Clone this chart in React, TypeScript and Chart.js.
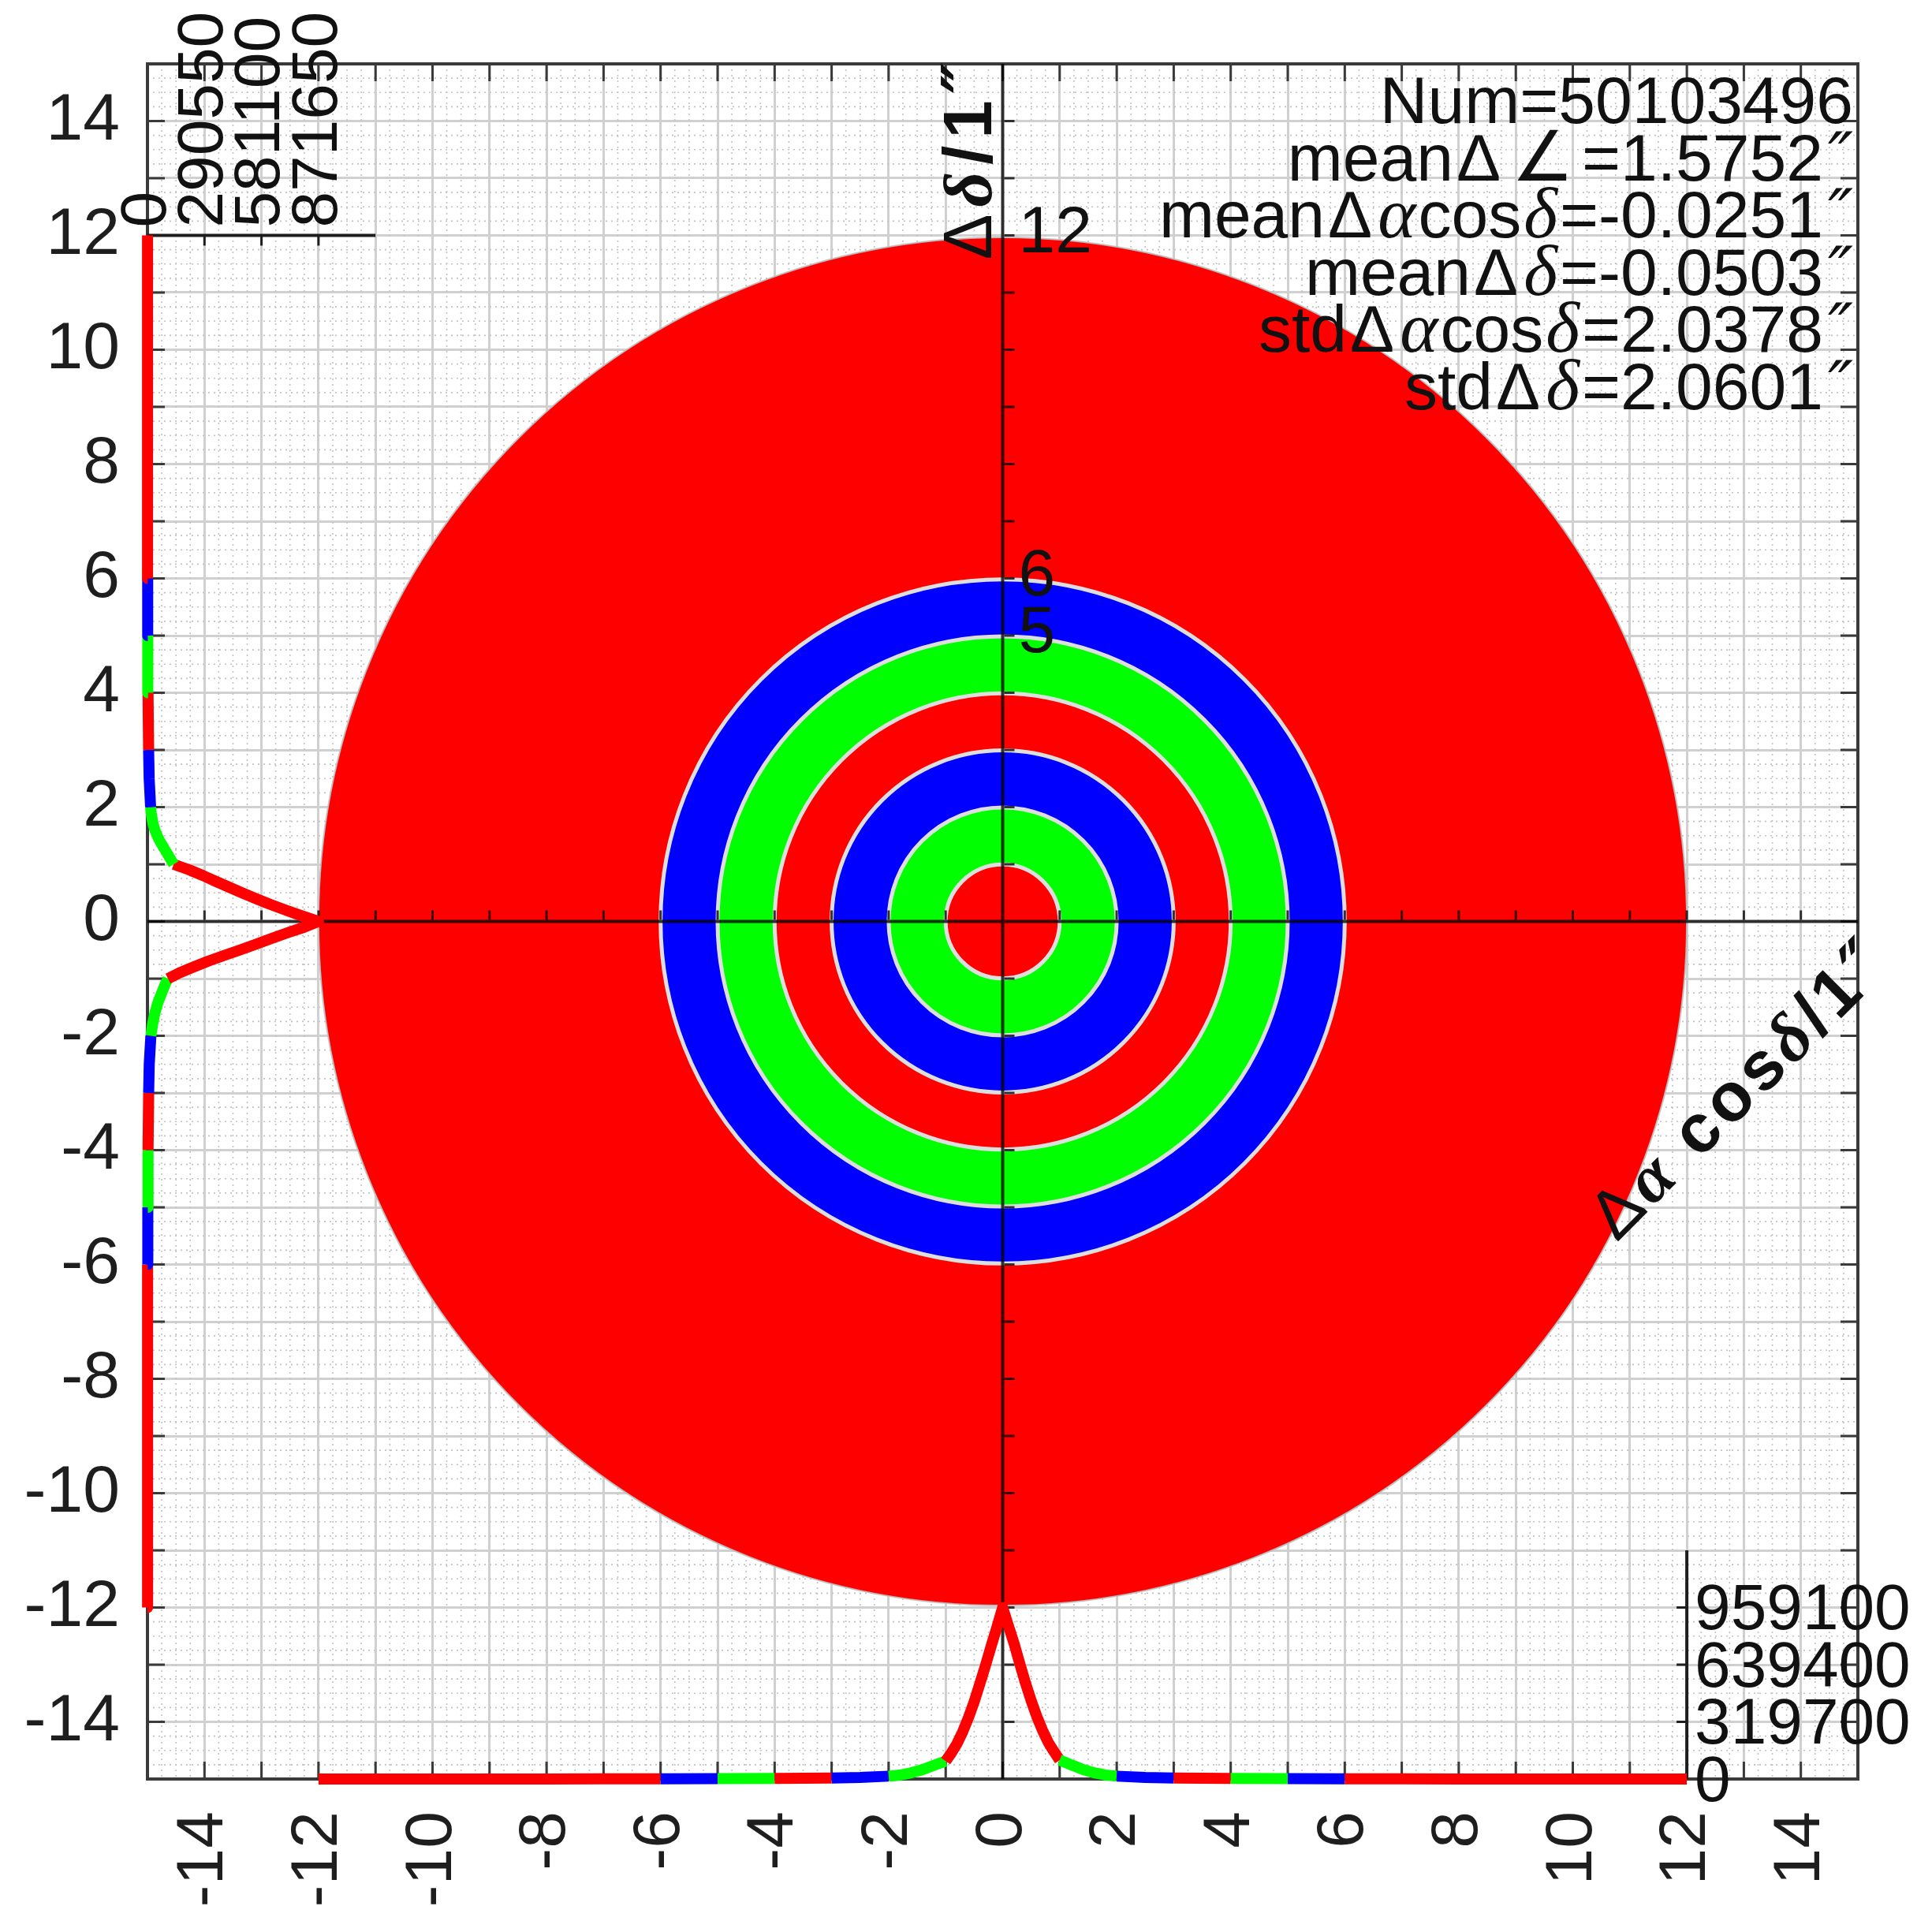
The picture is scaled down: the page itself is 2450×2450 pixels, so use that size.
import React, { useEffect, useRef } from 'react';
import { Chart, registerables } from 'chart.js';

Chart.register(...registerables);

// ---------------- data ----------------
// bin centres shared by both marginal histograms (arcsec)
const histPositions = [-12, -11, -10, -9, -8, -7, -6, -5, -4, -3, -2.5, -2, -1.9, -1.8, -1.7, -1.6, -1.5, -1.4, -1.3, -1.2, -1.1, -1, -0.9, -0.8, -0.7, -0.6, -0.5, -0.4, -0.3, -0.2, -0.1, 0, 0.1, 0.2, 0.3, 0.4, 0.5, 0.6, 0.7, 0.8, 0.9, 1, 1.1, 1.2, 1.3, 1.4, 1.5, 1.6, 1.7, 1.8, 1.9, 2, 2.5, 3, 4, 5, 6, 7, 8, 9, 10, 11, 12];

// counts of Δδ (left marginal histogram)
const ddeltaCounts = [100, 200, 300, 400, 600, 900, 1200, 1800, 3000, 6000, 9000,
  17400, 21800, 26100, 32000, 37800, 46500, 55200, 66800, 78400, 90100, 104600, 162700, 232400, 305100, 386400, 470700, 552000, 630500, 711800, 799000,
  871650,
  784500, 703100, 624700, 552000, 482300, 415500, 348700, 284700, 215000, 133700, 116200, 98800, 81400, 63900, 49400, 37800, 29100, 23200, 18900, 16000,
  8700, 5800, 2900, 1700, 1200, 900, 600, 400, 300, 200, 100];

// counts of Δα cosδ (bottom marginal histogram)
const dalphaCounts = [100, 200, 300, 400, 500, 800, 1200, 1800, 3000, 6000, 9000,
  16000, 19000, 22000, 28500, 35000, 44000, 53000, 65000, 77000, 89000, 100000, 146000, 198000, 265000, 343000, 432000, 533000, 636000, 745000, 850000,
  959100,
  856800, 757700, 645800, 537100, 438000, 348500, 271700, 204600, 153500, 105500, 92700, 79900, 67100, 54300, 44800, 35200, 28800, 22400, 19200, 16000,
  9000, 6000, 3000, 1800, 1200, 800, 500, 400, 300, 200, 100];

const ddeltaHistTicks = [0, 290550, 581100, 871650];
const dalphaHistTicks = [0, 319700, 639400, 959100];

// concentric rings (outer radius, colour), painted largest first
const ringRadii = [12, 6, 5, 4, 3, 2, 1];
const ringColors = ['#ff0000', '#0000ff', '#00ff00', '#ff0000', '#0000ff', '#00ff00', '#ff0000'];

// colour bands by |offset| (upper edge of each band)
const bandEdges = [1, 2, 3, 4, 5, 6, 12];
const bandColors = ['#ff0000', '#00ff00', '#0000ff', '#ff0000', '#00ff00', '#0000ff', '#ff0000'];

const axisTickLabels = ['-14', '-12', '-10', '-8', '-6', '-4', '-2', '0', '2', '4', '6', '8', '10', '12', '14'];
const centerAxisLabelValues = [12, 6, 5];

// ---------------- text ----------------
// [text, font, extra space before, extra space after]
type Seg = [string, string, number?, number?];
const SANS = '84px "Liberation Sans", "DejaVu Sans", sans-serif';
const ITAL = 'italic 92px "Liberation Serif", "DejaVu Serif", serif';
const SYM = '88px "DejaVu Sans", sans-serif';
const PRIME = 'italic 86px "DejaVu Sans", sans-serif';
const BSANS = 'bold 87px "Liberation Sans", "DejaVu Sans", sans-serif';
const BITAL = 'italic bold 87px "Liberation Serif", "DejaVu Serif", serif';
const NSANS = '87px "Liberation Sans", "DejaVu Sans", sans-serif';
const BPRIME = 'italic bold 87px "DejaVu Sans", sans-serif';

const statsLines: Seg[][] = [
  [['Num=50103496', SANS]],
  [['mean', SANS], ['Δ', SANS, 4, 4], ['∠', SYM, 10, 10], ['=1.5752', SANS], ['″', PRIME, 6, 0]],
  [['mean', SANS], ['Δ', SANS, 4, 4], ['α', ITAL, 3, 3], ['cos', SANS], ['δ', ITAL, 3, 3], ['=-0.0251', SANS], ['″', PRIME, 6, 0]],
  [['mean', SANS], ['Δ', SANS, 4, 4], ['δ', ITAL, 3, 3], ['=-0.0503', SANS], ['″', PRIME, 6, 0]],
  [['std', SANS], ['Δ', SANS, 4, 4], ['α', ITAL, 3, 3], ['cos', SANS], ['δ', ITAL, 3, 3], ['=2.0378', SANS], ['″', PRIME, 6, 0]],
  [['std', SANS], ['Δ', SANS, 4, 4], ['δ', ITAL, 3, 3], ['=2.0601', SANS], ['″', PRIME, 6, 0]],
];
const xTitle: Seg[] = [['Δ', NSANS, 0, 6], ['α', BITAL, 0, 6], [' ', BSANS, 0, 6], ['c', BSANS, 0, 6], ['o', BSANS, 0, 6], ['s', BSANS, 0, 6], ['δ', BITAL, 0, 6], ['/', BSANS, 0, 6], ['1', BSANS, 0, 6], ['″', BPRIME]];
const yTitle: Seg[] = [['Δ', NSANS, 0, 9], ['δ', BITAL, 0, 9], ['/', BSANS, 0, 9], ['1', BSANS, 0, 9], ['″', BPRIME]];

function segWidth(ctx: CanvasRenderingContext2D, segs: Seg[]) {
  let w = 0;
  for (const [t, f, a, b] of segs) { ctx.font = f; w += (a || 0) + ctx.measureText(t).width + (b || 0); }
  return w;
}
function drawSegs(ctx: CanvasRenderingContext2D, segs: Seg[], x: number, y: number) {
  let cx = x;
  ctx.textAlign = 'left';
  for (const [t, f, a, b] of segs) {
    ctx.font = f;
    cx += a || 0;
    ctx.fillText(t, cx, y);
    cx += ctx.measureText(t).width + (b || 0);
  }
}

function bandColor(v: number) {
  const a = Math.abs(v);
  for (let i = 0; i < bandEdges.length; i++) if (a < bandEdges[i]) return bandColors[i];
  return bandColors[bandColors.length - 1];
}

const overlay = {
  id: 'overlay',
  beforeDatasetsDraw(chart: any) {
    const { ctx, chartArea: ca, scales } = chart;
    const xs = scales.x, ys = scales.y, xc = scales.xc, yc = scales.yc;
    const px = (v: number) => xs.getPixelForValue(v);
    const py = (v: number) => ys.getPixelForValue(v);
    ctx.save();
    // minor dotted grid
    ctx.strokeStyle = '#c2c2c2';
    ctx.lineWidth = 1.6;
    ctx.setLineDash([2, 5]);
    for (let k = -60; k <= 60; k++) {
      if (k % 4 === 0) continue;
      const v = k / 4;
      ctx.beginPath(); ctx.moveTo(px(v), ca.top); ctx.lineTo(px(v), ca.bottom); ctx.stroke();
      ctx.beginPath(); ctx.moveTo(ca.left, py(v)); ctx.lineTo(ca.right, py(v)); ctx.stroke();
    }
    ctx.setLineDash([]);
    // frame
    ctx.strokeStyle = '#3a3a3a';
    ctx.lineWidth = 4;
    ctx.strokeRect(ca.left, ca.top, ca.right - ca.left, ca.bottom - ca.top);
    ctx.lineWidth = 3;
    for (let v = -14; v <= 14; v++) {
      ctx.beginPath();
      ctx.moveTo(px(v), ca.bottom); ctx.lineTo(px(v), ca.bottom - 22);
      ctx.moveTo(px(v), ca.top); ctx.lineTo(px(v), ca.top + 22);
      ctx.moveTo(ca.left, py(v)); ctx.lineTo(ca.left + 22, py(v));
      ctx.moveTo(ca.right, py(v)); ctx.lineTo(ca.right - 22, py(v));
      ctx.stroke();
    }
    // disk
    const cx = px(0), cy = py(0);
    ringRadii.forEach((r, i) => {
      ctx.beginPath(); ctx.arc(cx, cy, px(r) - cx, 0, Math.PI * 2);
      ctx.fillStyle = ringColors[i]; ctx.fill();
    });
    ringRadii.forEach((r, i) => {
      ctx.beginPath(); ctx.arc(cx, cy, px(r) - cx, 0, Math.PI * 2);
      ctx.lineWidth = i === 0 ? 2 : 5;
      ctx.strokeStyle = i === 0 ? 'rgba(185,195,195,0.9)' : '#dedede';
      ctx.stroke();
    });
    // centre axes
    ctx.strokeStyle = 'rgba(0,0,0,0.78)';
    ctx.lineWidth = 4;
    ctx.beginPath();
    ctx.moveTo(cx, ca.top); ctx.lineTo(cx, ca.bottom);
    ctx.moveTo(ca.left, cy); ctx.lineTo(ca.right, cy);
    ctx.stroke();
    ctx.lineWidth = 3;
    ctx.beginPath();
    for (let v = -14; v <= 14; v++) {
      if (v === 0) continue;
      ctx.moveTo(cx + 2, py(v)); ctx.lineTo(cx + 15, py(v));
      ctx.moveTo(px(v), cy - 2); ctx.lineTo(px(v), cy - 14);
    }
    ctx.stroke();
    // marginal histogram axes
    const edge = histPositions[histPositions.length - 1];
    ctx.strokeStyle = '#1e1e1e';
    ctx.lineWidth = 4;
    const yTop = py(edge);
    const xEnd = xc.getPixelForValue(ddeltaHistTicks[3] + ddeltaHistTicks[1]);
    ctx.beginPath(); ctx.moveTo(ca.left, yTop); ctx.lineTo(xEnd, yTop); ctx.stroke();
    ctx.lineWidth = 3;
    ctx.beginPath();
    ddeltaHistTicks.slice(1).forEach((t) => { const x = xc.getPixelForValue(t); ctx.moveTo(x, yTop); ctx.lineTo(x, yTop + 13); });
    ctx.stroke();
    const xRight = px(edge);
    const yEnd = yc.getPixelForValue(dalphaHistTicks[3] + dalphaHistTicks[1]);
    ctx.lineWidth = 4;
    ctx.beginPath(); ctx.moveTo(xRight, ca.bottom); ctx.lineTo(xRight, yEnd); ctx.stroke();
    ctx.lineWidth = 3;
    ctx.beginPath();
    dalphaHistTicks.slice(1).forEach((t) => { const y = yc.getPixelForValue(t); ctx.moveTo(xRight, y); ctx.lineTo(xRight - 13, y); });
    ctx.stroke();
    ctx.restore();
  },
  afterDraw(chart: any) {
    const { ctx, chartArea: ca, scales } = chart;
    const xs = scales.x, ys = scales.y, xc = scales.xc, yc = scales.yc;
    const px = (v: number) => xs.getPixelForValue(v);
    const py = (v: number) => ys.getPixelForValue(v);
    const edge = histPositions[histPositions.length - 1];
    ctx.save();
    ctx.fillStyle = '#111';
    // histogram tick labels (left, rotated)
    ctx.font = '82px "Liberation Sans", sans-serif';
    ddeltaHistTicks.forEach((t) => {
      ctx.save();
      ctx.translate(xc.getPixelForValue(t), py(edge) - 10);
      ctx.rotate(-Math.PI / 2);
      ctx.textAlign = 'left'; ctx.textBaseline = 'middle';
      ctx.fillText(String(t), 0, 0);
      ctx.restore();
    });
    // histogram tick labels (bottom-right)
    ctx.textAlign = 'left'; ctx.textBaseline = 'middle';
    dalphaHistTicks.forEach((t) => {
      ctx.fillText(String(t), px(edge) + 10, yc.getPixelForValue(t) + 5);
    });
    // labels beside centre axis
    ctx.font = '84px "Liberation Sans", sans-serif';
    centerAxisLabelValues.forEach((v) => {
      ctx.fillText(String(v), px(0) + 20, py(v) - 2);
    });
    // stats block
    ctx.textBaseline = 'alphabetic';
    statsLines.forEach((segs, i) => {
      const w = segWidth(ctx, segs);
      drawSegs(ctx, segs, ca.right - 6 - w, ca.top + 75 + i * 72.6);
    });
    // y title (rotated, along centre axis)
    ctx.save();
    ctx.translate(px(0) - 15, py(12) + 31);
    ctx.rotate(-Math.PI / 2);
    drawSegs(ctx, yTitle, 0, 0);
    ctx.restore();
    // x title (diagonal)
    ctx.save();
    ctx.translate(px(10.77), py(-5.62));
    ctx.rotate(-Math.PI / 4);
    drawSegs(ctx, xTitle, 0, 0);
    ctx.restore();
    ctx.restore();
  },
};

const tickCb = (value: any) => {
  const s = String(value);
  return axisTickLabels.indexOf(s) >= 0 ? s : '';
};

export default function App() {
  const ref = useRef<HTMLCanvasElement>(null);
  useEffect(() => {
    const canvas = ref.current!;
    const chart = new Chart(canvas, {
      type: 'scatter',
      data: {
        datasets: [
          {
            data: histPositions.map((p, i) => ({ x: ddeltaCounts[i], y: p })),
            xAxisID: 'xc', yAxisID: 'y',
            showLine: true, borderWidth: 14, pointRadius: 0, borderColor: '#ff0000',
            borderJoinStyle: 'round', borderCapStyle: 'butt', tension: 0, clip: false,
            segment: { borderColor: (c: any) => bandColor((c.p0.parsed.y + c.p1.parsed.y) / 2) },
          } as any,
          {
            data: histPositions.map((p, i) => ({ x: p, y: dalphaCounts[i] })),
            xAxisID: 'x', yAxisID: 'yc',
            showLine: true, borderWidth: 14, pointRadius: 0, borderColor: '#ff0000',
            borderJoinStyle: 'round', borderCapStyle: 'butt', tension: 0, clip: false,
            segment: { borderColor: (c: any) => bandColor((c.p0.parsed.x + c.p1.parsed.x) / 2) },
          } as any,
        ],
      },
      options: {
        responsive: false,
        devicePixelRatio: 1,
        animation: false,
        events: [],
        layout: { padding: { left: 0, top: 81, right: 94, bottom: 0 } },
        plugins: { legend: { display: false }, tooltip: { enabled: false }, title: { display: false } },
        scales: {
          x: {
            type: 'linear', position: 'bottom', min: -15, max: 15,
            ticks: { stepSize: 1, autoSkip: false, maxTicksLimit: 100, minRotation: 90, maxRotation: 90, padding: 41, color: '#1e1e1e', font: { family: 'Liberation Sans', size: 84 }, callback: tickCb },
            grid: { color: '#d0d0d0', lineWidth: 3, drawTicks: false },
            border: { display: false },
            afterFit: (s: any) => { s.height = 194; s.paddingLeft = 0; s.paddingRight = 0; },
          },
          y: {
            type: 'linear', position: 'left', min: -15, max: 15,
            ticks: { stepSize: 1, autoSkip: false, maxTicksLimit: 100, padding: 35, color: '#1e1e1e', font: { family: 'Liberation Sans', size: 84 }, callback: tickCb },
            grid: { color: '#d0d0d0', lineWidth: 3, drawTicks: false },
            border: { display: false },
            afterFit: (s: any) => { s.width = 187; s.paddingTop = 0; s.paddingBottom = 0; },
          },
          xc: { type: 'linear', axis: 'x', position: 'top', display: false, min: 0, max: 30 * ddeltaHistTicks[1] },
          yc: { type: 'linear', axis: 'y', position: 'right', display: false, min: 0, max: 30 * dalphaHistTicks[1] },
        },
      } as any,
      plugins: [overlay],
    });
    return () => chart.destroy();
  }, []);
  return (
    <div style={{ position: 'absolute', left: 0, top: 0, width: 2450, height: 2450, background: '#fff' }}>
      <canvas ref={ref} width={2450} height={2450} style={{ display: 'block', width: 2450, height: 2450 }} />
    </div>
  );
}
